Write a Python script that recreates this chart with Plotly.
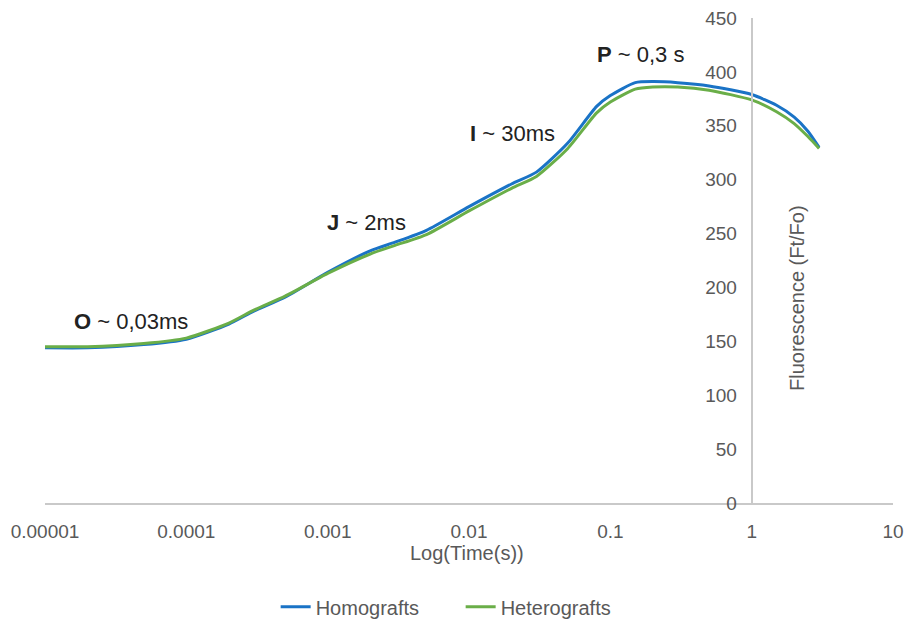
import math
import plotly.graph_objects as go

time_s = [1e-5, 2e-5, 5e-5, 1e-4, 2e-4, 3e-4, 5e-4, 1e-3, 2e-3, 3e-3, 5e-3,
          1e-2, 2e-2, 3e-2, 5e-2, 0.08, 0.1, 0.15, 0.2, 0.3, 0.5, 1, 1.5, 2, 2.5, 3]
homografts = [144, 144, 147, 152, 166, 178, 191, 214, 234, 242, 253,
              275, 296, 307, 334, 368, 378, 390, 391, 390, 387, 379, 369, 358, 345, 330]
heterografts = [145, 145, 148, 153, 167, 179, 192, 213, 231, 239, 249,
                271, 292, 303, 329, 362, 372, 384, 386, 386, 383, 374, 363, 352, 340, 329]

x_tickvals = [1e-5, 1e-4, 1e-3, 1e-2, 1e-1, 1, 10]
x_ticktext = ["0.00001", "0.0001", "0.001", "0.01", "0.1", "1", "10"]
y_tickvals = [0, 50, 100, 150, 200, 250, 300, 350, 400, 450]

phase_labels = ["<b>O</b> ~ 0,03ms", "<b>J</b> ~ 2ms", "<b>I</b> ~ 30ms", "<b>P</b> ~ 0,3 s"]
phase_x = [1.55e-5, 9.6e-4, 9.9e-3, 7.8e-2]
phase_y = [168, 260, 343, 416]

FONT = "Liberation Sans, Arial, sans-serif"
GRAY = "#595959"
LINE = "#c9c9c9"

fig = go.Figure()
fig.add_trace(go.Scatter(x=time_s, y=homografts, mode="lines", name="Homografts",
                         line=dict(color="#1a73c6", width=3, shape="spline", smoothing=0.6)))
fig.add_trace(go.Scatter(x=time_s, y=heterografts, mode="lines", name="Heterografts",
                         line=dict(color="#6aae48", width=3, shape="spline", smoothing=0.6)))

for txt, xv, yv in zip(phase_labels, phase_x, phase_y):
    fig.add_annotation(x=math.log10(xv), y=yv, text=txt, showarrow=False,
                       xanchor="left", yanchor="middle",
                       font=dict(family=FONT, size=22, color="#222222"))

fig.add_annotation(xref="paper", yref="paper", x=0.498, y=-0.103, text="Log(Time(s))",
                   showarrow=False, xanchor="center", yanchor="middle",
                   font=dict(family=FONT, size=20, color=GRAY))
fig.add_annotation(xref="paper", yref="paper", x=0.887, y=0.423, text="Fluorescence (Ft/Fo)",
                   showarrow=False, textangle=-90, xanchor="center", yanchor="middle",
                   font=dict(family=FONT, size=20, color=GRAY))

fig.update_layout(
    width=913, height=623,
    margin=dict(l=37, r=28, t=10, b=128, autoexpand=False),
    paper_bgcolor="white", plot_bgcolor="white",
    font=dict(family=FONT, size=19, color=GRAY),
    showlegend=True,
    legend=dict(orientation="h", x=0.272, y=-0.214, xanchor="left", yanchor="middle",
                entrywidth=140, entrywidthmode="pixels",
                font=dict(family=FONT, size=20, color=GRAY)),
    xaxis=dict(type="log", range=[-5, 1], tickvals=x_tickvals, ticktext=x_ticktext,
               showgrid=False, zeroline=False, showline=True, linecolor=LINE, linewidth=2,
               ticks="", ticklabelstandoff=10, ticklabeloverflow="allow",
               tickfont=dict(size=19, color=GRAY)),
    yaxis=dict(range=[0, 450], tickvals=y_tickvals, anchor="free", position=5/6,
               showgrid=False, zeroline=False, showline=True, linecolor=LINE, linewidth=2,
               ticks="", ticklabelstandoff=10, ticklabeloverflow="allow",
               tickfont=dict(size=19, color=GRAY)),
)

fig.write_html("out.html")
